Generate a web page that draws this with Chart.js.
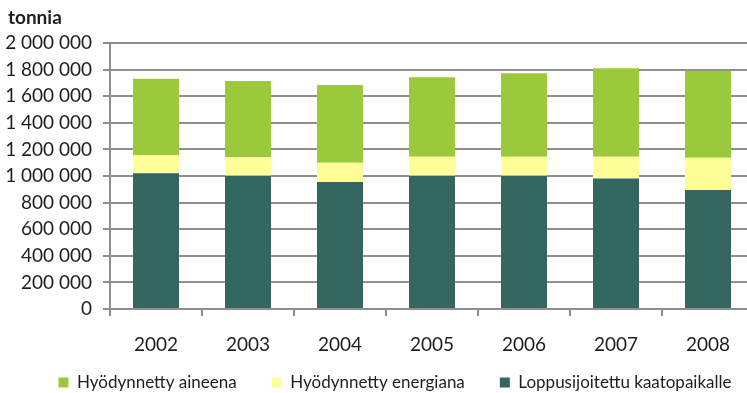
<!DOCTYPE html>
<html lang="fi">
<head>
<meta charset="utf-8">
<title>Jätteiden käsittely 2002–2008</title>
<script src="https://cdn.jsdelivr.net/npm/chart.js@4.4.1/dist/chart.umd.min.js"></script>
<style>
  html, body { margin: 0; padding: 0; overflow: hidden; background: #ffffff; }
  #wrap { position: relative; width: 790px; height: 417px; }
</style>
</head>
<body>
<div id="wrap"><canvas id="chart"></canvas></div>
<script>
// Vuodet
const years = ['2002', '2003', '2004', '2005', '2006', '2007', '2008'];

// Tonnia vuodessa käsittelytavan mukaan
const kaatopaikalle = [1020000, 1002000, 955000, 1002000, 1002000, 982000, 895000];
const energiana     = [138000, 139000, 145000, 143000, 143000, 163000, 243000];
const aineena       = [574000, 573000, 584000, 597000, 627000, 665000, 654000];

// Sarjojen nimet
const seriesNames = ['Loppusijoitettu kaatopaikalle', 'Hyödynnetty energiana', 'Hyödynnetty aineena'];

// Y-akselin asteikko
const yMax = 2000000;
const yStep = 200000;

const FONT = 'Lato, "Open Sans", "Liberation Sans", sans-serif';
const TEXT = '#1e1e1e';
const GRID = '#8e8e8e';

function spaced(v) {
  return String(v).replace(/\B(?=(\d{3})+(?!\d))/g, ' ');
}

// Yksikköteksti vasempaan yläkulmaan
const unitLabel = {
  id: 'unitLabel',
  afterDraw(chart) {
    const ctx = chart.ctx;
    ctx.save();
    ctx.font = 'bold 19px ' + FONT;
    ctx.fillStyle = TEXT;
    ctx.textAlign = 'left';
    ctx.textBaseline = 'alphabetic';
    ctx.fillText('tonnia', 8, 24);
    ctx.restore();
  }
};

// Selite nostetaan lähemmäs vuosilukuja
const legendLift = {
  id: 'legendLift',
  afterLayout(chart) {
    const lg = chart.legend;
    if (lg) { lg.top -= 16; lg.bottom -= 16; }
  }
};

new Chart(document.getElementById('chart'), {
  type: 'bar',
  data: {
    labels: years,
    datasets: [
      { label: seriesNames[0], data: kaatopaikalle, backgroundColor: '#33665f' },
      { label: seriesNames[1], data: energiana,     backgroundColor: '#ffff99' },
      { label: seriesNames[2], data: aineena,       backgroundColor: '#9aca3c' }
    ]
  },
  options: {
    responsive: true,
    maintainAspectRatio: false,
    animation: false,
    datasets: { bar: { categoryPercentage: 1.0, barPercentage: 0.5, borderWidth: 0 } },
    layout: { padding: { left: 0, right: 0, top: 43, bottom: 0 } },
    plugins: {
      legend: {
        position: 'bottom',
        reverse: true,
        labels: {
          boxWidth: 10,
          boxHeight: 10,
          padding: 35,
          color: TEXT,
          font: { family: FONT, size: 17 }
        }
      },
      tooltip: { enabled: false }
    },
    scales: {
      x: {
        stacked: true,
        offset: true,
        grid: { display: true, drawOnChartArea: false, offset: true, tickLength: 7, lineWidth: 2, color: GRID },
        border: { display: true, color: GRID, width: 2 },
        ticks: { color: TEXT, font: { family: FONT, size: 19 }, padding: 17, maxRotation: 0 },
        afterFit(scale) { scale.height = 46; }
      },
      y: {
        stacked: true,
        min: 0,
        max: yMax,
        grid: { color: GRID, lineWidth: 2, tickLength: 7, drawTicks: true },
        border: { display: true, color: GRID, width: 2 },
        ticks: {
          stepSize: yStep,
          color: TEXT,
          padding: 11,
          font: { family: FONT, size: 19 },
          callback: (v) => spaced(v)
        },
        afterFit(scale) { scale.width = 110; }
      },
      // tyhjä reuna-akseli oikealla, ei piirrä mitään
      edge: {
        type: 'linear',
        position: 'right',
        display: true,
        grid: { display: false, drawTicks: false },
        border: { display: false },
        ticks: { display: false },
        afterFit(scale) { scale.width = 36; }
      }
    }
  },
  plugins: [unitLabel, legendLift]
});
</script>
</body>
</html>
